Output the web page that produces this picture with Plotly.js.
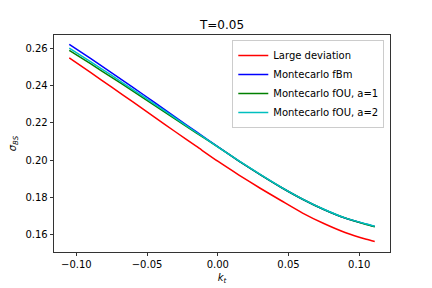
<!DOCTYPE html>
<html>
<head>
<meta charset="utf-8">
<script src="https://cdn.plot.ly/plotly-3.0.1.min.js"></script>
<style>html,body{margin:0;padding:0;background:#fff;}#chart{width:432px;height:288px;}</style>
</head>
<body>
<div id="chart"></div>
<script>
// log-moneyness k_t
const kt = [-0.105, -0.09, -0.075, -0.06, -0.045, -0.03, -0.015, 0.0, 0.015, 0.03, 0.045, 0.06, 0.075, 0.09, 0.105, 0.111];
// implied volatility sigma_BS
const largeDeviation = [0.2548, 0.2470, 0.2391, 0.2312, 0.2232, 0.2152, 0.2073, 0.1994, 0.1920, 0.1849, 0.1782, 0.1716, 0.1660, 0.1612, 0.1575, 0.1563];
const mcFBm        = [0.2621, 0.2545, 0.2468, 0.2390, 0.2311, 0.2231, 0.2151, 0.2072, 0.1995, 0.1922, 0.1853, 0.1790, 0.1735, 0.1689, 0.1656, 0.1644];
const mcFOU1       = [0.2589, 0.2517, 0.2444, 0.2370, 0.2295, 0.2220, 0.2145, 0.2071, 0.1995, 0.1922, 0.1853, 0.1790, 0.1735, 0.1689, 0.1655, 0.1643];
const mcFOU2       = [0.2601, 0.2528, 0.2454, 0.2378, 0.2302, 0.2225, 0.2148, 0.2071, 0.1996, 0.1923, 0.1854, 0.1791, 0.1736, 0.1690, 0.1657, 0.1645];
const seriesNames = ['Large deviation', 'Montecarlo fBm', 'Montecarlo fOU, a=1', 'Montecarlo fOU, a=2'];
const seriesColors = ['#ff0000', '#0000ff', '#008000', '#00bfbf'];
const xTicks = [-0.10, -0.05, 0.00, 0.05, 0.10];
const yTicks = [0.16, 0.18, 0.20, 0.22, 0.24, 0.26];

const ys = [largeDeviation, mcFBm, mcFOU1, mcFOU2];
const traces = ys.map((y, i) => ({
  x: kt, y: y, type: 'scatter', mode: 'lines', name: seriesNames[i],
  line: {color: seriesColors[i], width: 1.5, shape: 'spline', smoothing: 0.6}
}));

const font = {family: 'DejaVu Sans, sans-serif', size: 10, color: '#000'};
const axisCommon = {
  showgrid: false, zeroline: false, showline: true, mirror: true,
  linecolor: '#000', linewidth: 0.8, ticks: 'outside', ticklen: 3.5,
  tickwidth: 0.8, tickcolor: '#000', tickfont: font, tickformat: '.2f'
};
const layout = {
  width: 432, height: 288,
  margin: {l: 54, r: 42, t: 35, b: 36, pad: 0},
  paper_bgcolor: '#fff', plot_bgcolor: '#fff',
  font: font,
  showlegend: true,
  title: {text: 'T=0.05', font: {family: 'DejaVu Sans, sans-serif', size: 12, color: '#000'},
          x: 0.5, xref: 'paper', y: 1 - 25/288, yref: 'container', yanchor: 'middle'},
  xaxis: Object.assign({}, axisCommon, {
    range: [-0.1158, 0.1218], tickvals: xTicks,
    title: {text: '<i>k</i><sub><i>t</i></sub>', font: font, standoff: 4}
  }),
  yaxis: Object.assign({}, axisCommon, {
    range: [0.1507, 0.2671], tickvals: yTicks,
    title: {text: '<i>σ</i><sub><i>BS</i></sub>', font: font, standoff: 6}
  }),
  legend: {
    x: 0.983, xanchor: 'right', y: 0.977, yanchor: 'top',
    bgcolor: 'rgba(255,255,255,0.8)', bordercolor: '#cccccc', borderwidth: 1,
    font: font, tracegroupgap: 0, itemwidth: 30
  }
};
Plotly.newPlot('chart', traces, layout, {staticPlot: true, displayModeBar: false});
</script>
</body>
</html>
